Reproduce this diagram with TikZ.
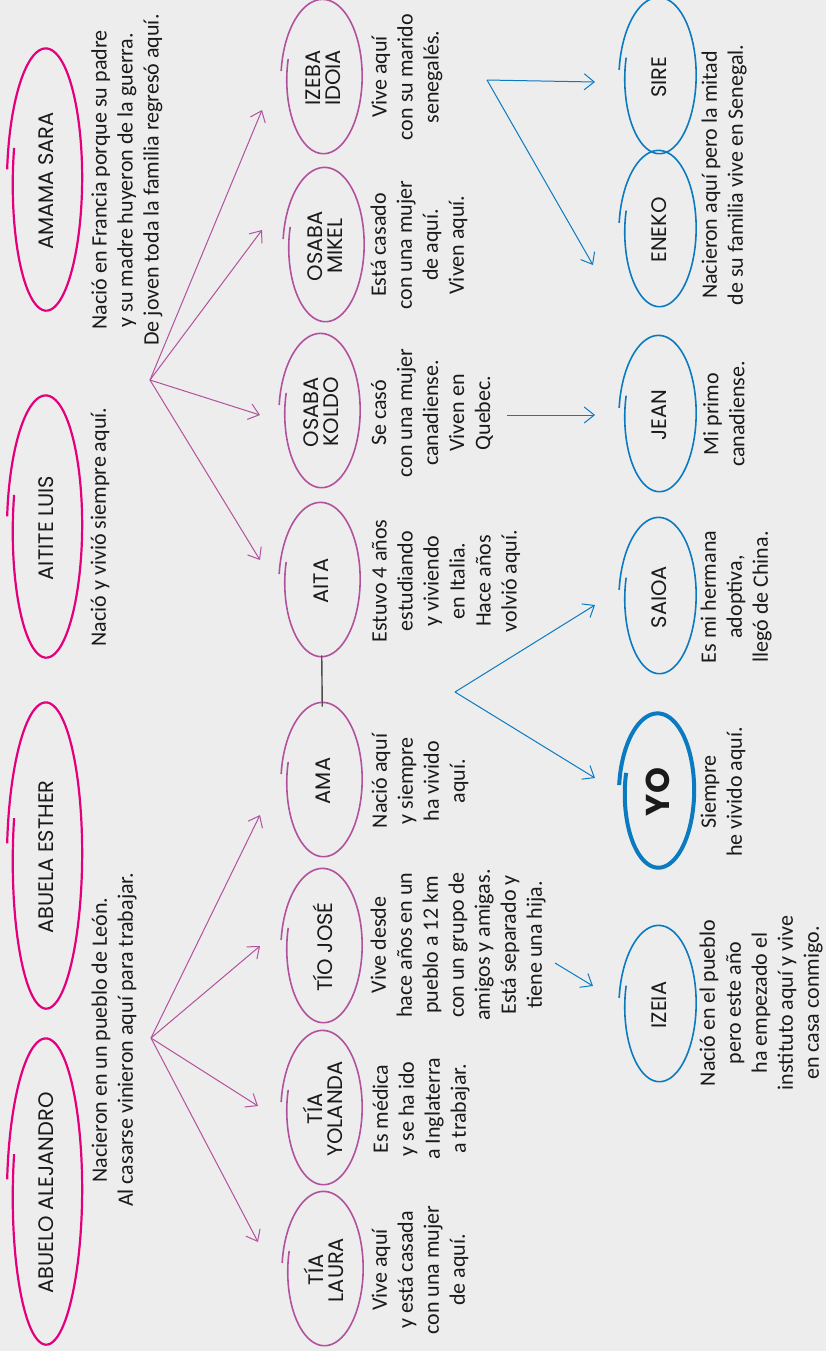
\documentclass[tikz,border=0pt]{standalone}
\usepackage{fontspec}
\setmainfont{Carlito}
\newfontfamily\manofont{Poppins}
\usetikzlibrary{shapes.geometric, arrows.meta, positioning}

\definecolor{fondo}{HTML}{EDEDED}
\definecolor{rosa}{HTML}{E4007C}
\definecolor{lila}{HTML}{B2519E}
\definecolor{azul}{HTML}{0B7BC1}
\definecolor{tinta}{HTML}{1A1A1A}
\definecolor{gris}{HTML}{4D4D4D}

% open hand-drawn ring round a name: node, x radius, y radius, style
\newcommand{\contorno}[4]{%
  \draw[#4, shift={(#1.center)}] plot[smooth, domain=165:535, samples=90, variable=\t]
    ({(#2+6*(\t-165)/370)*cos(\t)}, {(#3+6*(\t-165)/370)*sin(\t)});
}

\begin{document}
\begin{tikzpicture}[x=0.5pt, y=0.5pt,
    persona/.style={ellipse, rotate=90, align=center, inner sep=0pt, text=tinta,
      font=\manofont\fontsize{10.5}{10}\selectfont, minimum width=74pt, minimum height=36pt},
    texto/.style={rotate=90, align=center, inner sep=0pt, text=tinta,
      font=\fontsize{11}{13}\selectfont},
    flecha/.style={-{Straight Barb[length=5pt, width=8pt]}, line width=0.5pt}
  ]
  \fill[fondo] (0,0) rectangle (826,-1351);
  \useasboundingbox (0,0) rectangle (826,-1351);

  % Abuelos
  \node[persona] (sara) at (46,-181) {AMAMA SARA};
  \node[persona] (luis) at (46,-528) {AITITE LUIS};
  \node[persona] (esther) at (46,-857) {ABUELA ESTHER};
  \node[persona] (alejandro) at (46,-1193) {ABUELO ALEJANDRO};
  \foreach \n/\ry in {sara/128, luis/128, esther/150, alejandro/150}
    {\contorno{\n}{33}{\ry}{rosa, line width=1.1pt}}

  \node[texto] (txtsara) at (127,-180) {Nació en Francia porque su padre\\y su madre huyeron de la guerra.\\De joven toda la familia regresó aquí.};
  \node[texto] (txtluis) at (100,-527) {Nació y vivió siempre aquí.};
  \node[texto] (txtabuelos) at (114,-1040) {Nacieron en un pueblo de León.\\Al casarse vinieron aquí para trabajar.};

  % Hijos
  \node[persona] (idoia) at (323,-78) {IZEBA\\IDOIA};
  \node[persona] (mikel) at (325,-246) {OSABA\\MIKEL};
  \node[persona] (koldo) at (321,-412) {OSABA\\KOLDO};
  \node[persona] (aita) at (321,-581) {AITA};
  \node[persona] (ama) at (323,-781) {AMA};
  \node[persona] (jose) at (323,-947) {TÍO JOSÉ};
  \node[persona] (yolanda) at (323,-1109) {TÍA\\YOLANDA};
  \node[persona] (laura) at (324,-1270) {TÍA\\LAURA};
  \foreach \n in {idoia, mikel, koldo, aita, ama, jose, yolanda, laura}
    {\contorno{\n}{36}{74}{lila, line width=0.8pt}}

  \node[texto] (txtidoia) at (407,-77) {Vive aquí\\con su marido\\senegalés.};
  \node[texto] (txtmikel) at (419,-245) {Está casado\\con una mujer\\de aquí.\\Viven aquí.};
  \node[texto] (txtkoldo) at (432,-413) {Se casó\\con una mujer\\canadiense.\\Viven en\\Quebec.};
  \node[texto] (txtaita) at (446,-581) {Estuvo 4 años\\estudiando\\y viviendo\\en Italia.\\Hace años\\volvió aquí.};
  \node[texto] (txtama) at (420,-781) {Nació aquí\\y siempre\\ha vivido\\aquí.};
  \node[texto] (txtjose) at (458,-945) {Vive desde\\hace años en un\\pueblo a 12 km\\con un grupo de\\amigos y amigas.\\Está separado y\\tiene una hija.};
  \node[texto] (txtyolanda) at (421,-1109) {Es médica\\y se ha ido\\a Inglaterra\\a trabajar.};
  \node[texto] (txtlaura) at (420,-1270) {Vive aquí\\y está casada\\con una mujer\\de aquí.};

  % Nietos
  \node[persona] (sire) at (659,-77) {SIRE};
  \node[persona] (eneko) at (659,-230) {ENEKO};
  \node[persona] (jean) at (659,-415) {JEAN};
  \node[persona] (saioa) at (659,-597) {SAIOA};
  \node[persona, font=\manofont\bfseries\fontsize{16.5}{18}\selectfont] (yo) at (658,-792) {YO};
  \node[persona] (izeia) at (659,-1005) {IZEIA};
  \foreach \n in {sire, eneko, jean, saioa, izeia}
    {\contorno{\n}{34}{75}{azul, line width=0.8pt}}
  \contorno{yo}{33}{74}{azul, line width=2pt}

  \node[texto] (txtprimos) at (724,-175) {Nacieron aquí pero la mitad\\de su familia vive en Senegal.};
  \node[texto] (txtjean) at (724,-414) {Mi primo\\canadiense.};
  \node[texto] (txtsaioa) at (736,-597) {Es mi hermana\\adoptiva,\\llegó de China.};
  \node[texto] (txtyo) at (723,-792) {Siempre\\he vivido aquí.};
  \node[texto] (txtizeia) at (761,-1003) {Nació en el pueblo\\pero este año\\ha empezado el\\instituto aquí y vive\\en casa conmigo.};

  % Ramas
  \coordinate (rama1) at (151,-1038);
  \coordinate (rama2) at (150,-380);
  \coordinate (rama3) at (455,-692);
  \coordinate (rama4) at (487,-80);
  \coordinate (pLaura) at (258,-1242);
  \coordinate (pYolanda) at (258,-1106);
  \coordinate (pJose) at (260,-946);
  \coordinate (pAma) at (260,-815);
  \coordinate (pAita) at (260,-560);
  \coordinate (pKoldo) at (260,-415);
  \coordinate (pMikel) at (262,-230);
  \coordinate (pIdoia) at (262,-110);
  \coordinate (pSaioa) at (595,-605);
  \coordinate (pYo) at (595,-778);
  \coordinate (pSire) at (595,-82);
  \coordinate (pEneko) at (593,-265);
  \coordinate (qKoldo) at (507,-415);
  \coordinate (pJean) at (595,-415);
  \coordinate (qJose) at (555,-963);
  \coordinate (pIzeia) at (593,-986);

  \foreach \p in {pLaura, pYolanda, pJose, pAma}
    {\draw[flecha, lila] (rama1) -- (\p);}
  \foreach \p in {pAita, pKoldo, pMikel, pIdoia}
    {\draw[flecha, lila] (rama2) -- (\p);}
  \foreach \p in {pSaioa, pYo}
    {\draw[flecha, azul] (rama3) -- (\p);}
  \foreach \p in {pSire, pEneko}
    {\draw[flecha, azul] (rama4) -- (\p);}
  \draw[flecha, azul] (qKoldo) -- (pJean);
  \draw[flecha, azul] (qJose) -- (pIzeia);

  \draw[gris, line width=0.7pt] (aita) -- (ama);
\end{tikzpicture}
\end{document}
